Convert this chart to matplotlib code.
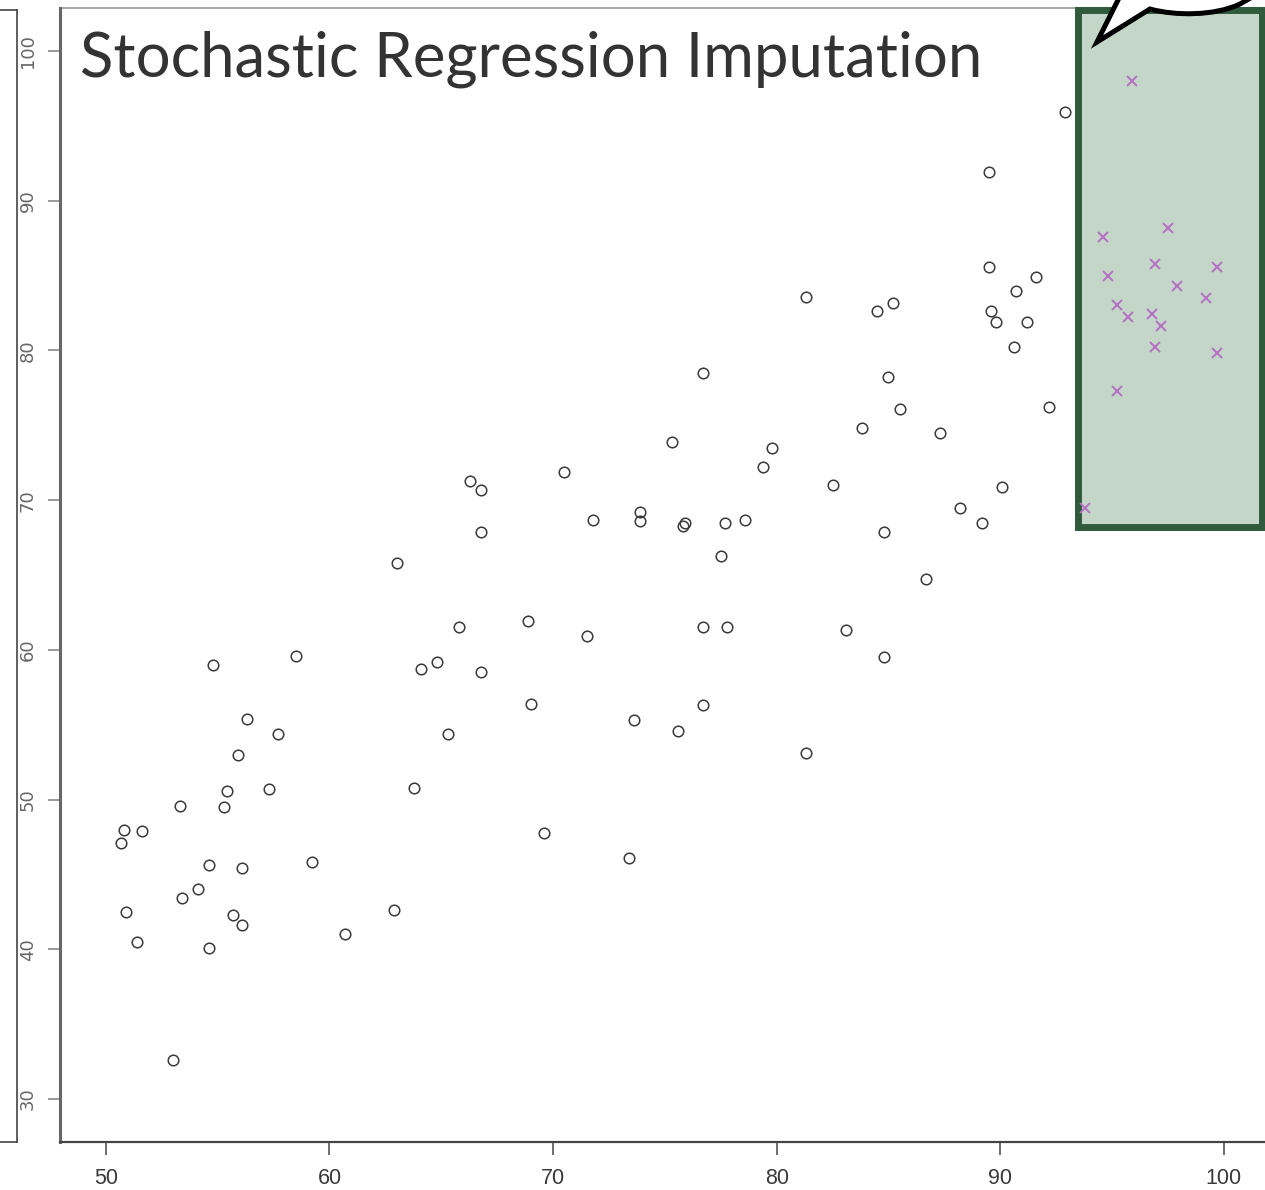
import matplotlib
matplotlib.use("Agg")
import matplotlib.pyplot as plt
from matplotlib.patches import Rectangle, PathPatch
from matplotlib.path import Path
from matplotlib.lines import Line2D
import matplotlib.transforms as mtransforms

# ---------------- data ----------------
obs_x = [54.8, 58.5, 56.3, 57.7, 55.9, 55.4, 57.3, 53.3, 55.3, 50.8, 51.6, 50.7,
         54.6, 56.1, 59.2, 54.1, 53.4, 50.9, 55.7, 56.1, 62.9, 60.7, 51.4, 54.6, 53.0,
         75.3, 70.5, 66.3, 66.8, 71.8, 73.9, 73.9, 75.8, 75.9, 77.7, 78.6, 66.8, 77.5,
         63.0, 65.8, 68.9, 71.5, 76.7, 77.8, 64.8, 64.1, 66.8, 69.0, 73.6, 75.6, 76.7,
         65.3, 63.8, 69.6, 73.4, 79.8, 79.4,
         92.9, 89.5, 89.5, 91.6, 90.7, 81.3, 85.2, 84.5, 89.6, 89.8, 91.2, 90.6, 85.0,
         85.5, 83.8, 87.3, 92.2, 82.5, 90.1, 88.2, 89.2, 84.8, 86.7, 83.1, 84.8, 76.7, 81.3]
obs_y = [59.0, 59.6, 55.4, 54.4, 53.0, 50.6, 50.7, 49.6, 49.5, 48.0, 47.9, 47.1,
         45.6, 45.4, 45.8, 44.0, 43.4, 42.5, 42.3, 41.6, 42.6, 41.0, 40.5, 40.1, 32.6,
         73.9, 71.9, 71.3, 70.7, 68.7, 69.2, 68.6, 68.3, 68.5, 68.5, 68.7, 67.9, 66.3,
         65.8, 61.5, 61.9, 60.9, 61.5, 61.5, 59.2, 58.7, 58.5, 56.4, 55.3, 54.6, 56.3,
         54.4, 50.8, 47.8, 46.1, 73.5, 72.2,
         95.9, 91.9, 85.6, 84.9, 84.0, 83.6, 83.2, 82.6, 82.6, 81.9, 81.9, 80.2, 78.2,
         76.1, 74.8, 74.5, 76.2, 71.0, 70.9, 69.5, 68.5, 67.9, 64.7, 61.3, 59.5, 78.5, 53.1]

imp_x = [95.9, 94.6, 97.5, 96.9, 99.7, 94.8, 97.9, 99.2, 95.2, 95.7, 96.8, 97.2,
         96.9, 99.7, 95.2, 93.8]
imp_y = [98.0, 87.6, 88.2, 85.8, 85.6, 85.0, 84.3, 83.5, 83.0, 82.2, 82.4, 81.6,
         80.2, 79.8, 77.3, 69.5]

x_ticks = [50, 60, 70, 80, 90, 100]
y_ticks = [30, 40, 50, 60, 70, 80, 90, 100]
title = "Stochastic Regression Imputation"

# ---------------- figure ----------------
W, H = 1265, 1190
fig = plt.figure(figsize=(W / 100, H / 100), dpi=100)
fig.patch.set_facecolor("white")

ax = fig.add_axes([60 / W, (H - 1142) / H, (W - 60) / W, (1142 - 8) / H])
ax.set_xlim(47.95, 101.84)
ax.set_ylim(27.13, 102.87)

ax.plot(obs_x, obs_y, linestyle="none", marker="o", markersize=7.6,
        markerfacecolor="none", markeredgecolor="#3a3a3a", markeredgewidth=1.1, zorder=2)

# highlight box
ax.add_patch(Rectangle((93.48, 68.20), 101.71 - 93.48, 102.71 - 68.20,
                       facecolor="#c4d6c8", edgecolor="#2f5a3b", linewidth=5,
                       clip_on=False, zorder=3))
ax.plot(imp_x, imp_y, linestyle="none", marker="x", markersize=6.5,
        markeredgecolor="#b56fc4", markeredgewidth=1.4, zorder=4, clip_on=False)

# spines
ax.spines["right"].set_visible(False)
ax.spines["left"].set_color("#666666")
ax.spines["left"].set_linewidth(2.2)
ax.spines["bottom"].set_color("#444444")
ax.spines["bottom"].set_linewidth(1.6)
ax.spines["top"].set_color("#aaaaaa")
ax.spines["top"].set_linewidth(1.5)
ax.spines["top"].set_zorder(1)

ax.set_xticks(x_ticks)
ax.set_xticklabels([str(v) for v in x_ticks], fontsize=15.5, color="#3a3a3a",
                   family="Liberation Sans")
ax.set_yticks(y_ticks)
ax.set_yticklabels([str(v) for v in y_ticks], fontsize=13, color="#666666",
                   family="DejaVu Sans", rotation=90, va="center")
ax.tick_params(axis="x", length=9.5, width=1.2, color="#555555", pad=9)
ax.tick_params(axis="y", length=8.6, width=1.2, color="#888888", pad=8)

# pixel transform (origin top-left)
pix = mtransforms.Affine2D().scale(1 / W, -1 / H).translate(0, 1) + fig.transFigure

# left frame fragment
for xs, ys in [([17, 17], [10, 1142]), ([0, 17], [10, 10]), ([0, 17], [1142, 1142])]:
    fig.add_artist(Line2D(xs, ys, transform=pix, color="#444444", linewidth=1.2))

# speech bubble
verts = [(1123, -10), (1097, 42), (1150, 9), (1175, 16), (1215, 16), (1240, 4),
         (1268, -12), (1123, -12), (1123, -10)]
codes = [Path.MOVETO, Path.LINETO, Path.LINETO, Path.CURVE4, Path.CURVE4, Path.CURVE4,
         Path.LINETO, Path.LINETO, Path.CLOSEPOLY]
fig.add_artist(PathPatch(Path(verts, codes), transform=pix, facecolor="white",
                         edgecolor="black", linewidth=3.6, joinstyle="miter", zorder=10))

# title
t = fig.text(80 / W, (H - 77) / H, title, fontsize=50, color="#333333",
             family="Lato", va="baseline", ha="left", zorder=11)
fig.canvas.draw()
bb = t.get_window_extent(renderer=fig.canvas.get_renderer())
t.set_fontsize(50 * 903 / bb.width)

fig.savefig("out.png", dpi=100)
